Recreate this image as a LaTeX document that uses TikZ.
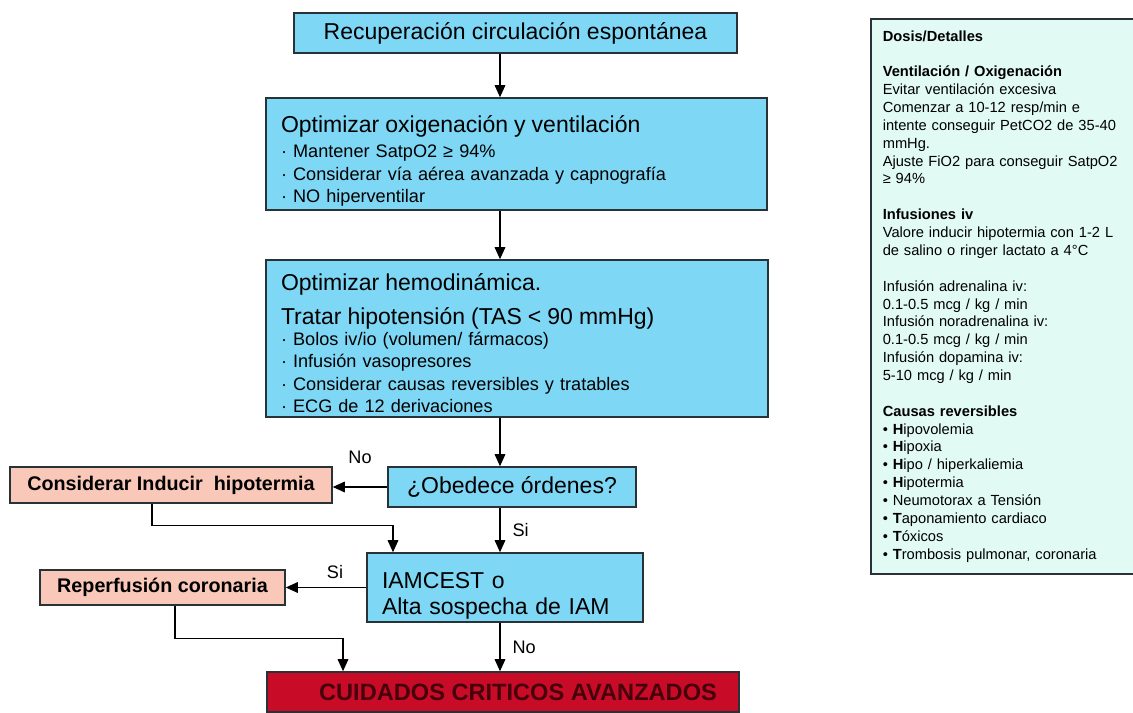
\documentclass[tikz,border=0pt]{standalone}
\usepackage{fontspec}
\setmainfont{Liberation Sans}
\usetikzlibrary{arrows.meta}
\usepackage{xcolor}

\definecolor{boxline}{RGB}{40,50,55}
\definecolor{boxblue}{RGB}{125,215,245}
\definecolor{boxpeach}{RGB}{250,200,185}
\definecolor{boxred}{RGB}{200,12,40}
\definecolor{textred}{RGB}{70,0,12}
\definecolor{panelmint}{RGB}{225,250,243}

\newcommand{\titlesize}{\fontsize{17.25}{20.7}\selectfont\lineskiplimit=-30pt}
\newcommand{\itemsize}{\fontsize{13.6}{16.8}\selectfont\lineskiplimit=-30pt}
\newcommand{\sidesize}{\fontsize{14.8}{17}\selectfont}
\newcommand{\notesize}{\fontsize{11}{13.4}\selectfont\lineskiplimit=-30pt}

\begin{document}
\begin{tikzpicture}[x=0.75pt, y=-0.75pt,
    box/.style={draw=boxline, line width=1.2pt, inner sep=0pt},
    bluebox/.style={box, fill=boxblue, font=\titlesize},
    listbox/.style={bluebox, align=left, inner xsep=11.25pt, font=\itemsize},
    peachbox/.style={box, fill=boxpeach, font=\sidesize\bfseries},
    flow/.style={line width=0.9pt, -{Triangle[length=9pt, width=8pt]}},
    lbl/.style={font=\itemsize, inner sep=0pt}]
    \useasboundingbox (0,0) rectangle (1133,713);
    \clip (0,0) rectangle (1133,713);

    % Main column
    \node[bluebox, minimum width=332.25pt, minimum height=30pt] (rosc) at (515.5,33)
      {Recuperación circulación espontánea};
    \node[listbox, text width=353.25pt, minimum height=84pt] (oxig) at (516.5,154)
      {{\titlesize\rule{0pt}{22.8pt}Optimizar oxigenación y ventilación}\\[2.5pt]
       · Mantener SatpO2 ≥ 94\%\\
       · Considerar vía aérea avanzada y capnografía\\
       · NO hiperventilar};
    \node[listbox, text width=354pt, minimum height=117.75pt] (hemo) at (517,338.5)
      {{\titlesize\rule{0pt}{19.7pt}Optimizar hemodinámica.}\\[8.7pt]
       {\titlesize Tratar hipotensión (TAS < 90 mmHg)}\\[-1.2pt]
       · Bolos iv/io (volumen/ fármacos)\\
       · Infusión vasopresores\\
       · Considerar causas reversibles y tratables\\
       · ECG de 12 derivaciones};
    \node[bluebox, minimum width=186pt, minimum height=30pt] (obedece) at (512,487)
      {¿Obedece órdenes?};
    \node[listbox, font=\titlesize, text width=184.5pt, minimum height=51.75pt] (iam) at (505,587.5)
      {\rule{0pt}{24.6pt}IAMCEST o\\[-0.5pt]
       Alta sospecha de IAM};
    \node[box, fill=boxred, text=textred, font=\fontsize{17.7}{20}\selectfont\bfseries,
      minimum width=354pt, minimum height=30pt] (cuidados) at (503,692)
      {\hspace*{22.5pt}CUIDADOS CRITICOS AVANZADOS};

    % Side branches
    \node[peachbox, minimum width=241.5pt, minimum height=27pt] (hipo) at (171,485)
      {Considerar Inducir \ hipotermia};
    \node[peachbox, minimum width=183.75pt, minimum height=26.25pt] (reperf) at (162.5,587.5)
      {Reperfusión coronaria};

    % Details panel
    \node[box, fill=panelmint, anchor=north west, align=left, font=\notesize,
      inner xsep=9pt, text width=215pt, minimum height=416.25pt] (dosis) at (870,18)
      {\textbf{Dosis/Detalles}\\[13.4pt]
       \textbf{Ventilación / Oxigenación}\\
       Evitar ventilación excesiva\\
       Comenzar a 10-12 resp/min e\\
       intente conseguir PetCO2 de 35-40\\
       mmHg.\\
       Ajuste FiO2 para conseguir SatpO2\\
       ≥ 94\%\\[13.4pt]
       \textbf{Infusiones iv}\\
       Valore inducir hipotermia con 1-2 L\\
       de salino o ringer lactato a 4°C\\[13.4pt]
       Infusión adrenalina iv:\\
       0.1-0.5 mcg / kg / min\\
       Infusión noradrenalina iv:\\
       0.1-0.5 mcg / kg / min\\
       Infusión dopamina iv:\\
       5-10 mcg / kg / min\\[13.4pt]
       \textbf{Causas reversibles}\\
       • \textbf{H}ipovolemia\\
       • \textbf{H}ipoxia\\
       • \textbf{H}ipo / hiperkaliemia\\
       • \textbf{H}ipotermia\\
       • Neumotorax a Tensión\\
       • \textbf{T}aponamiento cardiaco\\
       • \textbf{T}óxicos\\
       • \textbf{T}rombosis pulmonar, coronaria};

    % Arrows
    \coordinate (spine) at (500,0);
    \draw[flow] (rosc.south -| spine) -- (oxig.north -| spine);
    \draw[flow] (oxig.south -| spine) -- (hemo.north -| spine);
    \draw[flow] (hemo.south -| spine) -- (obedece.north -| spine);
    \draw[flow] (obedece.south -| spine) -- node[lbl, right=9pt] {Si} (iam.north -| spine);
    \draw[flow] (iam.south -| spine) -- node[lbl, right=9pt] {No} (cuidados.north -| spine);
    \draw[flow] (obedece.west) -- node[lbl, above=17pt] {No} (obedece.west -| hipo.east);
    \draw[flow] (iam.west) -- node[lbl, above=6pt, xshift=6.75pt] {Si} (iam.west -| reperf.east);
    \draw[flow] ([xshift=-14.25pt]hipo.south) -- ++(0,22) -| ([xshift=-84pt]iam.north);
    \draw[flow] ([xshift=9.4pt]reperf.south) -- ++(0,33) -| ([xshift=-120pt]cuidados.north);
\end{tikzpicture}
\end{document}
